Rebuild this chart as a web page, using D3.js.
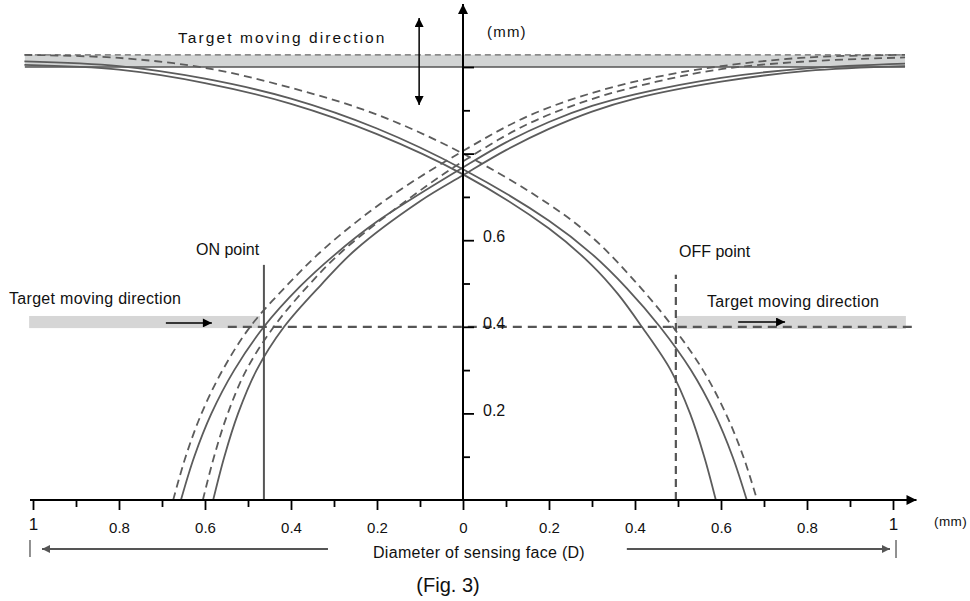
<!DOCTYPE html>
<html><head><meta charset="utf-8">
<script src="https://cdn.jsdelivr.net/npm/d3@7"></script>
<style>body{margin:0;background:#fff}svg{display:block}text{font-family:"Liberation Sans",Arial,sans-serif;fill:#111}</style>
</head><body><svg id="c" width="970" height="601"></svg>
<script>
// ---- data (mm) ----
const xMajorTicks = [-1,-0.8,-0.6,-0.4,-0.2,0,0.2,0.4,0.6,0.8,1];
const xTickLabels = ["1","0.8","0.6","0.4","0.2","0","0.2","0.4","0.6","0.8","1"];
const xMinorTicks = [-0.9,-0.7,-0.5,-0.3,-0.1,0.1,0.3,0.5,0.7,0.9];
const yMajorTicks = [0.2,0.4,0.6,0.8,1.0];
const yMinorTicks = [0.1,0.3,0.5,0.7,0.9];
const yLabelValues = [0.2,0.4,0.6];
const yTickLabels = ["0.2","0.4","0.6"];

// curves descending to the right (from upper left)
const descOuter  = [[-1.02,1.013],[-0.8,1.002],[-0.6,0.973],[-0.4,0.927],[-0.2,0.858],[0,0.764],[0.2,0.645],[0.3,0.568],[0.38,0.49],[0.458,0.4],[0.530,0.3],[0.585,0.2],[0.627,0.1],[0.66,0]];
const descInner  = [[-1.02,1.005],[-0.8,0.994],[-0.6,0.963],[-0.4,0.915],[-0.2,0.845],[0,0.752],[0.2,0.627],[0.3,0.542],[0.36,0.476],[0.416,0.4],[0.483,0.3],[0.528,0.2],[0.561,0.1],[0.588,0]];
const descDashed = [[-1.02,1.028],[-0.8,1.021],[-0.6,0.998],[-0.4,0.952],[-0.2,0.890],[0,0.800],[0.2,0.683],[0.3,0.607],[0.4,0.505],[0.488,0.4],[0.558,0.3],[0.611,0.2],[0.652,0.1],[0.684,0]];
// curves ascending to the right (from lower left)
const ascDashedOuter = [[-0.674,0],[-0.645,0.1],[-0.608,0.2],[-0.559,0.3],[-0.495,0.4],[-0.41,0.495],[-0.32,0.583],[-0.17,0.70],[0,0.806],[0.15,0.886],[0.3,0.940],[0.45,0.977],[0.6,1.002],[0.8,1.022],[1.028,1.028]];
const ascSolidOuter  = [[-0.656,0],[-0.625,0.1],[-0.585,0.2],[-0.532,0.3],[-0.463,0.4],[-0.38,0.492],[-0.3,0.565],[-0.2,0.643],[0,0.768],[0.1,0.826],[0.2,0.873],[0.3,0.910],[0.4,0.937],[0.6,0.975],[0.8,0.997],[1.028,1.008]];
const ascDashedInner = [[-0.605,0],[-0.579,0.1],[-0.547,0.2],[-0.504,0.3],[-0.44,0.4],[-0.36,0.495],[-0.28,0.575],[-0.12,0.70],[0,0.782],[0.15,0.868],[0.3,0.926],[0.45,0.966],[0.6,0.995],[0.8,1.013],[1.028,1.022]];
const ascSolidInner  = [[-0.581,0],[-0.555,0.1],[-0.523,0.2],[-0.480,0.3],[-0.416,0.4],[-0.33,0.497],[-0.25,0.578],[-0.1,0.69],[0,0.750],[0.1,0.808],[0.2,0.857],[0.3,0.897],[0.4,0.927],[0.6,0.966],[0.8,0.991],[1.028,1.002]];

const onPoint = -0.463, offPoint = 0.495, switchLevel = 0.4;

// ---- drawing ----
const svg = d3.select("#c");
const x = d3.scaleLinear().domain([-1,1]).range([33,893]);
const y = d3.scaleLinear().domain([0,1]).range([500,67]);
const defs = svg.append("defs");
function marker(id, color, w, h){
  defs.append("marker").attr("id",id).attr("viewBox","0 0 10 10").attr("refX",10).attr("refY",5)
    .attr("markerWidth",w).attr("markerHeight",h).attr("markerUnits","userSpaceOnUse").attr("orient","auto-start-reverse")
    .append("path").attr("d","M0,0L10,5L0,10Z").attr("fill",color);
}
marker("ab","#000",14,9);
marker("ag","#555",13,8);
marker("abig","#000",15,10);

const gray = "#5c5c5c";
// top band
svg.append("rect").attr("x",x(-1.019)).attr("y",y(1.028)).attr("width",x(1.028)-x(-1.019)).attr("height",y(1.0)-y(1.028)).attr("fill","#d2d4d4");
svg.append("line").attr("x1",x(-1.019)).attr("x2",x(1.028)).attr("y1",y(1.028)).attr("y2",y(1.028)).attr("stroke","#666").attr("stroke-width",1.4).attr("stroke-dasharray","6,4");
svg.append("line").attr("x1",x(-1.019)).attr("x2",x(1.028)).attr("y1",y(1.0)).attr("y2",y(1.0)).attr("stroke","#555").attr("stroke-width",1.4);
// side bands
svg.append("rect").attr("x",x(-1.009)).attr("y",y(0.425)).attr("width",x(-0.472)-x(-1.009)).attr("height",y(0.397)-y(0.425)).attr("fill","#d6d6d6");
svg.append("rect").attr("x",x(0.495)).attr("y",y(0.425)).attr("width",x(1.030)-x(0.495)).attr("height",y(0.395)-y(0.425)).attr("fill","#d6d6d6");

const line = d3.line().x(d=>x(d[0])).y(d=>y(d[1])).curve(d3.curveCatmullRom.alpha(0.5));
const curves = [
  [descOuter,false],[descInner,false],[descDashed,true],
  [ascDashedOuter,true],[ascSolidOuter,false],[ascDashedInner,true],[ascSolidInner,false]
];
curves.forEach(([d,dashed])=>{
  svg.append("path").attr("d",line(d)).attr("fill","none").attr("stroke",gray).attr("stroke-width",1.8)
    .attr("stroke-dasharray",dashed?"8,5":null);
});

// switching level and ON/OFF lines
svg.append("line").attr("x1",x(-0.547)).attr("x2",x(1.044)).attr("y1",y(switchLevel)).attr("y2",y(switchLevel))
  .attr("stroke","#555").attr("stroke-width",2.2).attr("stroke-dasharray","9,6");
svg.append("line").attr("x1",x(onPoint)).attr("x2",x(onPoint)).attr("y1",y(0)).attr("y2",y(0.543)).attr("stroke","#555").attr("stroke-width",2);
svg.append("line").attr("x1",x(offPoint)).attr("x2",x(offPoint)).attr("y1",y(0)).attr("y2",y(0.520)).attr("stroke","#555").attr("stroke-width",2.2).attr("stroke-dasharray","8,5");

// direction arrows
svg.append("line").attr("x1",x(-0.691)).attr("x2",x(-0.584)).attr("y1",y(0.409)).attr("y2",y(0.409)).attr("stroke","#000").attr("stroke-width",1.5).attr("marker-end","url(#ab)");
svg.append("line").attr("x1",x(0.640)).attr("x2",x(0.749)).attr("y1",y(0.411)).attr("y2",y(0.411)).attr("stroke","#000").attr("stroke-width",1.5).attr("marker-end","url(#ab)");
svg.append("line").attr("x1",x(-0.102)).attr("x2",x(-0.102)).attr("y1",y(1.113)).attr("y2",y(0.912)).attr("stroke","#000").attr("stroke-width",1.5)
  .attr("marker-start","url(#ab)").attr("marker-end","url(#ab)");

// axes
const gx = svg.append("g").attr("transform",`translate(0,${y(0)})`);
gx.append("g").call(d3.axisBottom(x).tickValues(xMinorTicks).tickSize(7).tickFormat(""));
gx.append("g").call(d3.axisBottom(x).tickValues(xMajorTicks).tickSize(10).tickPadding(12).tickFormat((d,i)=>xTickLabels[i]));
gx.selectAll(".domain").remove();
gx.selectAll(".tick line").attr("stroke","#000").attr("stroke-width",1.8);
gx.selectAll(".tick text").attr("font-size",15).attr("fill","#111").attr("font-family","Liberation Sans, Arial, sans-serif");
gx.selectAll(".tick text").filter((d)=>Math.abs(d)===1).attr("font-size",17).attr("dy","0.45em");
svg.append("line").attr("x1",30).attr("x2",x(1.05)+2).attr("y1",y(0)).attr("y2",y(0)).attr("stroke","#000").attr("stroke-width",2).attr("marker-end","url(#abig)");

const gy = svg.append("g").attr("transform",`translate(${x(0)},0)`);
gy.append("g").call(d3.axisRight(y).tickValues(yMinorTicks).tickSize(7).tickFormat(""));
gy.append("g").call(d3.axisRight(y).tickValues(yMajorTicks).tickSize(11).tickFormat(""));
gy.append("g").call(d3.axisRight(y).tickValues(yLabelValues).tickSize(0).tickPadding(20).tickFormat((d,i)=>yTickLabels[i]));
gy.selectAll(".domain").remove();
gy.selectAll(".tick line").attr("stroke","#000").attr("stroke-width",1.8);
gy.selectAll(".tick text").attr("font-size",16).attr("fill","#111").attr("font-family","Liberation Sans, Arial, sans-serif").attr("dy","0.1em");
svg.append("line").attr("x1",x(0)).attr("x2",x(0)).attr("y1",y(0)).attr("y2",4).attr("stroke","#000").attr("stroke-width",2).attr("marker-end","url(#abig)");

// bottom diameter arrows
svg.append("line").attr("x1",x(-0.314)).attr("x2",x(-0.979)).attr("y1",549).attr("y2",549).attr("stroke","#555").attr("stroke-width",2).attr("marker-end","url(#ag)");
svg.append("line").attr("x1",x(0.381)).attr("x2",x(0.993)).attr("y1",549).attr("y2",549).attr("stroke","#555").attr("stroke-width",2).attr("marker-end","url(#ag)");
svg.append("line").attr("x1",x(-1.007)).attr("x2",x(-1.007)).attr("y1",540).attr("y2",557).attr("stroke","#555").attr("stroke-width",1.3);
svg.append("line").attr("x1",x(1.007)).attr("x2",x(1.007)).attr("y1",540).attr("y2",558).attr("stroke","#555").attr("stroke-width",1.3);

// texts
function txt(s,xx,yy,size,ls,anchor){
  return svg.append("text").attr("x",xx).attr("y",yy).attr("font-size",size).attr("letter-spacing",ls||0).attr("text-anchor",anchor||"start").text(s);
}
txt("Target moving direction",178,43,15.5,2.1);
txt("Target moving direction",9,304,16,0.3);
txt("Target moving direction",707,307,16,0.3);
txt("ON point",196,255,16,0);
txt("OFF point",679,257,16,0);
txt("(mm)",487,37,15,1.2);
txt("(mm)",934,526,13.5,0.4);
txt("Diameter of sensing face (D)",479,558,16,0.3,"middle");
txt("(Fig. 3)",448,592,20,0,"middle");
</script></body></html>
